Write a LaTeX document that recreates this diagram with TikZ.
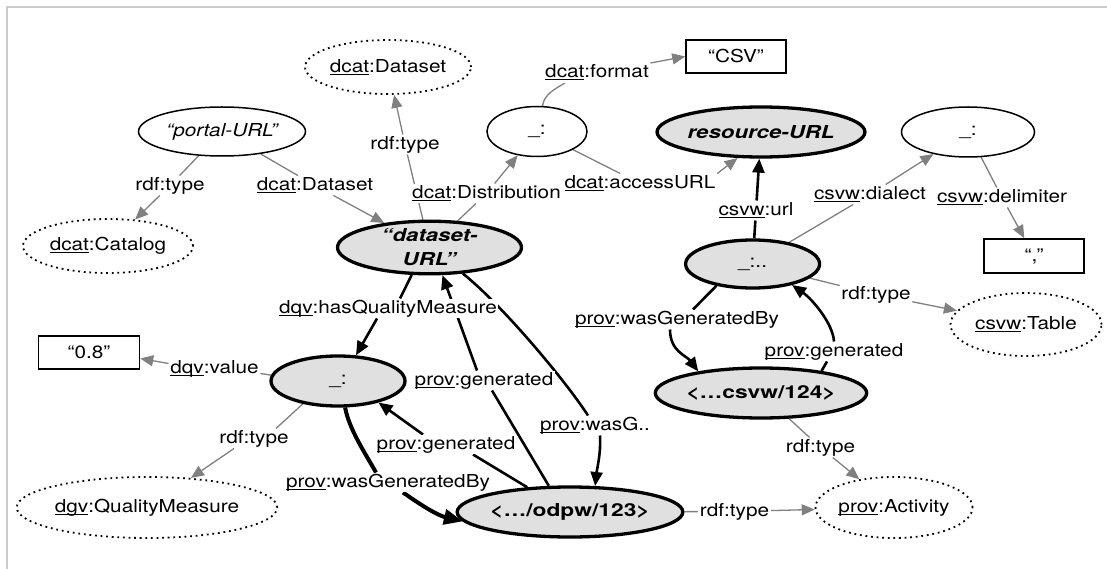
\documentclass[tikz,border=0pt]{standalone}
\usepackage{fontspec}
\setmainfont{TeX Gyre Heros}[FakeStretch=1.165]
\newfontfamily\condfont{TeX Gyre Heros}[FakeStretch=1.28]
\newfontfamily\bifont{TeX Gyre Heros}[FakeStretch=1.25]
\usetikzlibrary{shapes.geometric,arrows.meta,calc}
\pgfdeclarelayer{bg}
\pgfsetlayers{bg,main}
\definecolor{nodegray}{RGB}{224,224,224}
\definecolor{linegray}{RGB}{128,128,128}
\definecolor{framegray}{RGB}{204,204,204}
\newcommand\ulpre[1]{\leavevmode\setbox0\hbox{#1}\rlap{\rule[-2.4pt]{\wd0}{0.9pt}}\box0}
\newcommand\basefont{\fontsize{17.8pt}{21pt}\selectfont}
\begin{document}
\begin{tikzpicture}[x=1pt,y=-1pt,
  every node/.append style={font=\basefont},
  lbl/.style={fill=white, inner sep=1.5pt, text height=12.9pt, text depth=3.7pt},
  res/.style={ellipse, draw, line width=1.5pt, fill=white, inner sep=0pt},
  key/.style={ellipse, draw, line width=3.3pt, fill=nodegray, inner sep=0pt},
  cls/.style={ellipse, draw, line width=1.8pt, dash pattern=on 1.8pt off 3.8pt, fill=white, inner sep=0pt},
  lit/.style={rectangle, draw, line width=1.5pt, fill=white, inner sep=0pt},
  gline/.style={draw=linegray, line width=1.3pt},
  garr/.style={gline, -{Triangle[length=13pt,width=11pt]}},
  bline/.style={draw=black, line width=2.6pt},
  barr/.style={bline, -{Triangle[length=14pt,width=12pt]}},
  bbarr/.style={draw=black, line width=4pt, -{Triangle[length=19pt,width=15pt]}}
]
\useasboundingbox (0,0) rectangle (1107,569);
\draw[framegray, line width=1.2pt] (7,569) -- (7,7) -- (1107,7);

% ---------- resource nodes ----------
\node[res, minimum width=167pt, minimum height=49pt] (P) at (222,131.5) {\itshape “portal-URL”};
\node[cls, minimum width=166pt, minimum height=54pt] (DD) at (388,67) {\ulpre{dcat}:Dataset};
\node[cls, minimum width=170pt, minimum height=54pt] (Cat) at (108,246) {\ulpre{dcat}:Catalog};
\node[key, minimum width=184pt, minimum height=49pt, align=center,
      font=\fontsize{17.8pt}{24pt}\selectfont\bifont\bfseries\itshape] (D) at (429.5,247.5) {“dataset-\\URL”};
\node[res, minimum width=100pt, minimum height=50pt] (X1) at (537,131.5) {\_:};
\node[lit, minimum width=100pt, minimum height=33pt] (CSV) at (736,56.5) {“CSV”};
\node[key, minimum width=184pt, minimum height=50pt] (R) at (761,132) {\bifont\bfseries\itshape resource-URL};
\node[res, minimum width=133pt, minimum height=50pt] (X2) at (968,132) {\_:};
\node[lit, minimum width=100pt, minimum height=34pt] (CM) at (1034,256) {“,”};
\node[key, minimum width=134pt, minimum height=48pt] (X3) at (752.6,264) {\_:..};
\node[cls, minimum width=151pt, minimum height=63pt] (T) at (1026,324.5) {\ulpre{csvw}:Table};
\node[key, minimum width=184pt, minimum height=50pt] (A2) at (761,393) {\condfont\bfseries <…csvw/124>};
\node[cls, minimum width=149pt, minimum height=61pt] (ACT) at (894,507.5) {\ulpre{prov}:Activity};
\node[key, minimum width=200pt, minimum height=50pt] (A1) at (570,512) {\condfont\bfseries <…/odpw/123>};
\node[key, minimum width=134pt, minimum height=50pt] (Q) at (338,381) {\_:};
\node[lit, minimum width=101pt, minimum height=33pt] (V08) at (89,352.5) {“0.8”};
\node[cls, minimum width=248pt, minimum height=61pt] (QM) at (147,507.5) {\ulpre{dgv}:QualityMeasure};

% ---------- edge labels ----------
\node[lbl] (L1) at (170,185.5) {rdf:type};
\node[lbl] (L2) at (315,185.5) {\ulpre{dcat}:Dataset};
\node[lbl] (L3) at (405,144.5) {rdf:type};
\node[lbl] (L4) at (486.5,193.5) {\ulpre{dcat}:Distribution};
\node[lbl] (L5) at (597,73) {\ulpre{dcat}:format};
\node[lbl] (L6) at (640,183.5) {\ulpre{dcat}:accessURL};
\node[lbl] (L7) at (756,210.5) {\ulpre{csvw}:url};
\node[lbl] (L8) at (870,194.5) {\ulpre{csvw}:dialect};
\node[lbl] (L9) at (1002,197.5) {\ulpre{csvw}:delimiter};
\node[lbl] (L10) at (876,294.5) {rdf:type};
\node[lbl] (L11) at (677,319.5) {\ulpre{prov}:wasGeneratedBy};
\node[lbl] (L12) at (834,351.5) {\ulpre{prov}:generated};
\node[lbl] (L13) at (820.5,447.5) {rdf:type};
\node[lbl] (L14) at (734.5,511.5) {rdf:type};
\node[lbl] (L15) at (595,425.5) {\ulpre{prov}:wasG..};
\node[lbl] (L16) at (388,308.5) {\ulpre{dqv}:hasQualityMeasure};
\node[lbl] (L17) at (484,380.5) {\ulpre{prov}:generated};
\node[lbl] (L18) at (214.5,368.5) {\ulpre{dqv}:value};
\node[lbl] (L19) at (254,438.5) {rdf:type};
\node[lbl] (L20) at (446,444.5) {\ulpre{prov}:generated};
\node[lbl] (L21) at (388,482.5) {\ulpre{prov}:wasGeneratedBy};

% ---------- helper coordinates ----------
\coordinate (e5) at ([xshift=-32pt]L5.south);
\coordinate (s11) at ([xshift=-7pt]L11.south);
\coordinate (e15) at ([xshift=-7pt]L15.north);
\coordinate (s15) at ([xshift=5pt]L15.south);
\coordinate (e21) at ([xshift=-12pt]L21.north);
\coordinate (s21) at ([xshift=15pt]L21.south);

\begin{pgfonlayer}{bg}
% gray edges
\draw[gline] (P) -- (L1);  \draw[garr] (L1) -- (Cat);
\draw[gline] (P) -- (L2);  \draw[garr] (L2) -- (D);
\draw[gline] (D) -- (L3);  \draw[garr] (L3) -- (DD);
\draw[gline] (D) -- (L4);  \draw[garr] (L4) -- (X1);
\draw[gline] (X1.78) .. controls ($(X1.78)+(2,-12)$) and ($(e5)+(-10,6)$) .. (e5);
\draw[garr] (L5.north east) -- (CSV.west);
\draw[gline] (X1) -- (L6);  \draw[garr] (L6.north east) -- (R.228);
\draw[gline] (X3) -- (L8);  \draw[garr] (L8) -- (X2);
\draw[gline] (X2) -- (L9);  \draw[garr] (L9) -- (CM);
\draw[gline] (X3) -- (L10); \draw[garr] (L10) -- (T);
\draw[gline] (A2) -- (L13); \draw[garr] (L13) -- (ACT);
\draw[gline] (A1) -- (L14); \draw[garr] (L14) -- (ACT);
\draw[gline] (Q.175) -- ([yshift=-5pt]L18.east);
\draw[garr] ([yshift=5pt]L18.west) -- ([yshift=-6pt]V08.east);
\draw[gline] (Q.213) -- ([xshift=22pt]L19.north);
\draw[garr] ([xshift=-20pt]L19.south) -- (QM.34);
% black edges
\draw[bline] (X3) -- (L7); \draw[barr] (L7) -- (R);
\draw[bline] (X3.211) -- ([xshift=16pt]L11.north);
\draw[barr] (s11) .. controls ($(s11)+(0,22)$) and ($(A2.161)+(-12,-16)$) .. (A2.161);
\draw[bline] (A2.20) -- ([xshift=-7pt]L12.south);
\draw[barr] (L12.north) .. controls ($(L12.north)+(-1,-18)$) and ($(X3.-28)+(20,14)$) .. (X3.-28);
\draw[bline] (D.-38) .. controls ($(D.-38)+(40,32)$) and ($(e15)+(-22,-34)$) .. (e15);
\draw[barr] (s15) .. controls ($(s15)+(1,18)$) and ($(A1.46)+(2,-18)$) .. (A1.46);
\draw[bline] (D.237) -- ([xshift=12pt]L16.north);
\draw[barr] ([xshift=-11pt]L16.south) -- (Q.55);
\draw[bline] (A1.129) -- ([xshift=8pt]L17.south);
\draw[barr] ([xshift=-7pt]L17.north) -- (D.-65);
\draw[bline] (A1.150) -- ([xshift=27pt]L20.south);
\draw[barr] ([xshift=-23pt]L20.north) -- (Q.-28);
\draw[bline, line width=4pt] (Q.-75) .. controls ($(Q.-75)+(4,22)$) and ($(e21)+(-10,-18)$) .. (e21);
\draw[bbarr] (s21) .. controls ($(s21)+(20,14)$) and ($(A1.185)+(-25,-6)$) .. (A1.185);
\end{pgfonlayer}
\end{tikzpicture}
\end{document}
